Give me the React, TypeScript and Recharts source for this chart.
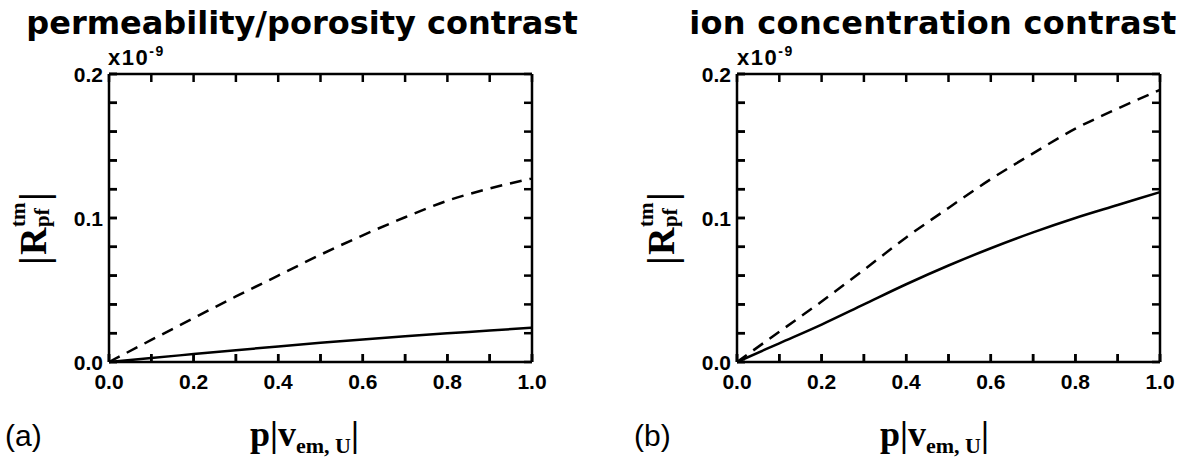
import React from "react";
import { LineChart, Line, XAxis, YAxis, ReferenceLine } from "recharts";

// p|v_em,U| sample points
const xValues = [0, 0.1, 0.2, 0.3, 0.4, 0.5, 0.6, 0.7, 0.8, 0.9, 1.0];

// (a) permeability/porosity contrast
const permDashed = [0, 0.0153, 0.0305, 0.0455, 0.06, 0.0745, 0.088, 0.1005, 0.112, 0.1205, 0.1275];
const permSolid = [0, 0.0028, 0.0055, 0.0082, 0.0108, 0.0133, 0.0157, 0.0179, 0.0199, 0.0218, 0.0238];

// (b) ion concentration contrast
const ionDashed = [0, 0.021, 0.042, 0.064, 0.0865, 0.107, 0.127, 0.1449, 0.162, 0.176, 0.189];
const ionSolid = [0, 0.013, 0.026, 0.04, 0.054, 0.067, 0.079, 0.09, 0.1, 0.109, 0.118];

const xTicks = [0, 0.1, 0.2, 0.3, 0.4, 0.5, 0.6, 0.7, 0.8, 0.9, 1.0];
const yTicks = [0, 0.02, 0.04, 0.06, 0.08, 0.1, 0.12, 0.14, 0.16, 0.18, 0.2];

const sans = "Liberation Sans, Arial, sans-serif";
const serif = "Liberation Serif, Times New Roman, serif";
const heavy = "DejaVu Sans, sans-serif";

const fmtX = (v: number) => (Math.round(v * 10) % 2 === 0 ? v.toFixed(1) : "");
const fmtY = (v: number) => (Math.round(v * 100) % 10 === 0 ? v.toFixed(1) : "");

// plot box inside each chart
const W = 557, H = 459;
const M = { top: 74, right: 25, bottom: 67, left: 0 };
const XH = 30, YW = 109;
const PB = H - M.bottom - XH, PL = YW;
// inward tick length in data units (about 8px)
const TX = 8 / 423, TY = 0.2 * 8 / 288;

const renderXTick = (props: any) => (
  <text x={props.x} y={PB + 27} textAnchor="middle" fill="#000" fontFamily={sans} fontWeight={700} fontSize={21}>
    {fmtX(props.payload.value)}
  </text>
);

const renderYTick = (props: any) => (
  <text x={PL - 6} y={props.y} dy="0.36em" textAnchor="end" fill="#000" fontFamily={sans} fontWeight={700} fontSize={21}>
    {fmtY(props.payload.value)}
  </text>
);

type PanelProps = { dashed: number[]; solid: number[] };

const Panel: React.FC<PanelProps> = ({ dashed, solid }) => {
  const data = xValues.map((x, i) => ({ x, dashed: dashed[i], solid: solid[i] }));
  return (
    <LineChart width={W} height={H} data={data} margin={M}>
      <XAxis dataKey="x" type="number" domain={[0, 1]} ticks={xTicks} interval={0} height={XH}
        stroke="#000" strokeWidth={2.5} tickSize={-8} tickLine={{ stroke: "#000", strokeWidth: 2.5 }} tick={renderXTick} />
      <YAxis type="number" domain={[0, 0.2]} ticks={yTicks} interval={0} width={YW}
        stroke="#000" strokeWidth={2.5} tickSize={-8} tickLine={{ stroke: "#000", strokeWidth: 2.5 }} tick={renderYTick} />
      <ReferenceLine y={0.2} stroke="#000" strokeWidth={2.5} ifOverflow="visible" />
      <ReferenceLine x={1} stroke="#000" strokeWidth={2.5} ifOverflow="visible" />
      {xTicks.map((t) => (
        <ReferenceLine key={`tx${t}`} segment={[{ x: t, y: 0.2 }, { x: t, y: 0.2 - TY }]}
          stroke="#000" strokeWidth={2.5} ifOverflow="visible" />
      ))}
      {xTicks.map((t) => (
        <ReferenceLine key={`bx${t}`} segment={[{ x: t, y: 0 }, { x: t, y: TY }]}
          stroke="#000" strokeWidth={2.5} ifOverflow="visible" />
      ))}
      {yTicks.map((t) => (
        <ReferenceLine key={`ry${t}`} segment={[{ x: 1, y: t }, { x: 1 - TX, y: t }]}
          stroke="#000" strokeWidth={2.5} ifOverflow="visible" />
      ))}
      {yTicks.map((t) => (
        <ReferenceLine key={`ly${t}`} segment={[{ x: 0, y: t }, { x: TX, y: t }]}
          stroke="#000" strokeWidth={2.5} ifOverflow="visible" />
      ))}
      <Line dataKey="dashed" type="monotone" stroke="#000" strokeWidth={2.5}
        strokeDasharray="12 8" dot={false} isAnimationActive={false} />
      <Line dataKey="solid" type="monotone" stroke="#000" strokeWidth={2.5}
        dot={false} isAnimationActive={false} />
    </LineChart>
  );
};

// rotated |R^tm_pf| label, origin at the bottom of the label
const YLabel: React.FC<{ x: number; y: number }> = ({ x, y }) => (
  <g transform={`translate(${x},${y}) rotate(-90)`} fontFamily={serif} fill="#000" fontWeight={700}>
    <text x={0} y={1} fontSize={40}>|</text>
    <text x={10} y={0} fontSize={38}>R</text>
    <text x={38} y={-21} fontSize={21}>tm</text>
    <text x={38} y={3} fontSize={21}>pf</text>
    <text x={64} y={1} fontSize={40}>|</text>
  </g>
);

const XLabel: React.FC<{ x: number; y: number }> = ({ x, y }) => (
  <text x={x} y={y} fontFamily={serif} fontWeight={700} fill="#000" fontSize={36}>
    p|v<tspan fontSize={22} dy={7}>em, U</tspan><tspan dy={-7}>|</tspan>
  </text>
);

const Exponent: React.FC<{ x: number; y: number }> = ({ x, y }) => (
  <text x={x} y={y} fontFamily={sans} fontWeight={700} fontSize={22} fill="#000" letterSpacing={1.5}>
    x10<tspan fontSize={14} dy={-9}>-9</tspan>
  </text>
);

export default function App() {
  return (
    <div style={{ position: "absolute", left: 0, top: 0, width: 1185, height: 459, background: "#fff", overflow: "hidden" }}>
      <div style={{ position: "absolute", left: 0, top: 0 }}>
        <Panel dashed={permDashed} solid={permSolid} />
      </div>
      <div style={{ position: "absolute", left: 628, top: 0 }}>
        <Panel dashed={ionDashed} solid={ionSolid} />
      </div>
      <svg width={1185} height={459} style={{ position: "absolute", left: 0, top: 0, pointerEvents: "none" }}>
        <text x={302} y={34} textAnchor="middle" fontFamily={heavy} fontWeight={700} fontSize={32}>
          permeability/porosity contrast
        </text>
        <text x={933} y={34} textAnchor="middle" fontFamily={heavy} fontWeight={700} fontSize={32} letterSpacing={0.3}>
          ion concentration contrast
        </text>
        <Exponent x={108} y={65} />
        <Exponent x={737} y={65} />
        <YLabel x={46} y={265} />
        <YLabel x={674} y={265} />
        <XLabel x={250} y={446} />
        <XLabel x={880} y={446} />
        <text x={5} y={446} fontFamily={sans} fontSize={30}>(a)</text>
        <text x={634} y={446} fontFamily={sans} fontSize={30}>(b)</text>
      </svg>
    </div>
  );
}
